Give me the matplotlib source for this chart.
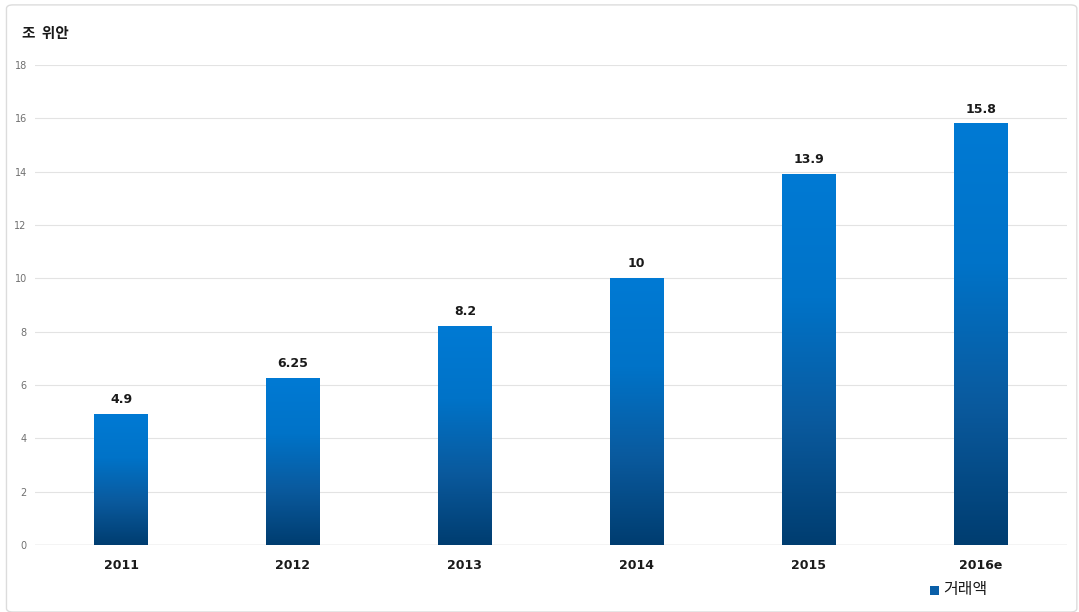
import numpy as np
import matplotlib
matplotlib.use('Agg')
import matplotlib.pyplot as plt
from matplotlib.colors import LinearSegmentedColormap
from matplotlib.patches import FancyBboxPatch, Rectangle

plt.rcParams['font.family'] = ['DejaVu Sans', 'Noto Sans CJK KR']

years = ['2011', '2012', '2013', '2014', '2015', '2016e']
volume = [4.9, 6.25, 8.2, 10, 13.9, 15.8]
value_labels = ['4.9', '6.25', '8.2', '10', '13.9', '15.8']
y_ticks = [0, 2, 4, 6, 8, 10, 12, 14, 16, 18]

# dark navy at the base fading up to bright blue at the top of each bar
bar_cmap = LinearSegmentedColormap.from_list('bar_grad', ['#003d70', '#0a5a9e', '#0073c8', '#007ad4'])

fig = plt.figure(figsize=(10.79, 6.12), dpi=100)
fig.patches.append(FancyBboxPatch((0.006, 0.0), 0.992, 0.992, boxstyle='round,pad=0,rounding_size=0.006',
                                  transform=fig.transFigure, facecolor='white',
                                  edgecolor='#dcdcdc', linewidth=1.0, zorder=-1))

ax = fig.add_axes([0.0325, 0.1095, 0.956, 0.7843])
ax.set_facecolor('none')

x = np.arange(len(years))
width = 0.31
grad = np.linspace(0, 1, 256).reshape(-1, 1)
for xi, v, lab in zip(x, volume, value_labels):
    ax.imshow(grad, cmap=bar_cmap, origin='lower', aspect='auto',
              extent=(xi - width / 2, xi + width / 2, 0, v), zorder=3)
    ax.text(xi, v + 0.3, lab, ha='center', va='bottom', fontsize=9,
            fontweight='bold', color='#1a1a1a', zorder=4)

ax.set_xlim(-0.5, len(years) - 0.5)
ax.set_ylim(0, 18)
ax.set_yticks(y_ticks)
ax.set_yticklabels([str(t) for t in y_ticks], fontsize=7, color='#707070')
ax.set_xticks(x)
ax.set_xticklabels(years, fontsize=9, fontweight='bold', color='#1a1a1a')
ax.tick_params(axis='both', length=0)
ax.tick_params(axis='y', pad=6)
ax.tick_params(axis='x', pad=10)
ax.grid(axis='y', color='#e3e3e3', linewidth=0.8, zorder=0)
for s in ax.spines.values():
    s.set_visible(False)
ax.axhline(0, color='#d4d4d4', linewidth=1.0, zorder=1)

fig.text(0.02, 0.946, '조  위안', fontsize=10.5, fontweight='bold', color='#1a1a1a',
         family=['Noto Sans CJK KR', 'DejaVu Sans'], va='center')

# legend entry under the last category
fig.patches.append(Rectangle((0.862, 0.028), 0.0085, 0.015, transform=fig.transFigure,
                             facecolor='#0a5fa8', edgecolor='none'))
fig.text(0.874, 0.036, '거래액', fontsize=11.5, color='#1a1a1a',
         family=['Noto Sans CJK KR', 'DejaVu Sans'], va='center')

fig.savefig('out.png', dpi=100)
